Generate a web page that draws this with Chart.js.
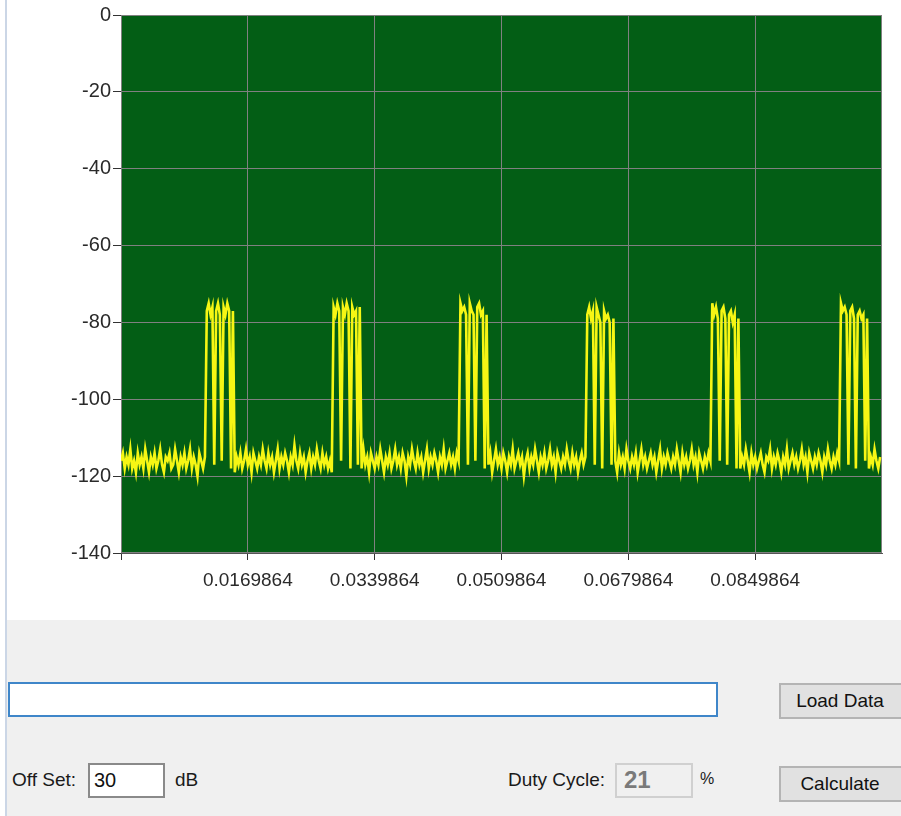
<!DOCTYPE html>
<html><head><meta charset="utf-8">
<script src="https://cdn.jsdelivr.net/npm/chart.js@4/dist/chart.umd.min.js"></script>
<style>
html,body{margin:0;padding:0;background:#fff;width:901px;height:816px;overflow:hidden;font-family:"Liberation Sans",Arial,sans-serif;color:#222;}
#chartBox{position:absolute;left:0;top:0;width:901px;height:620px;}
#panel{position:absolute;left:7px;top:620px;width:894px;height:196px;background:#f0f0f0;}
#edge{position:absolute;left:5px;top:0;width:2px;height:816px;background:#cbd6e6;}
.abs{position:absolute;box-sizing:border-box;white-space:nowrap;}
#pathBox{left:8px;top:682px;width:710px;height:35px;border:2px solid #3f86c9;background:#fff;}
.btn{background:#e1e1e1;border:2px solid #b4b4b4;text-align:center;font-size:19px;color:#111;}
#loadBtn{left:779px;top:683px;width:126px;height:36px;line-height:32px;padding-right:4px;}
#calcBtn{left:779px;top:766px;width:126px;height:36px;line-height:32px;padding-right:4px;}
.lbl{font-size:19px;color:#1a1a1a;}
#offLbl{left:12px;top:769px;}
#offBox{left:88px;top:763px;width:77px;height:35px;border:2px solid #8a8a8a;background:#fff;font-size:20px;padding-left:4px;line-height:31px;color:#111;}
#dbLbl{left:175px;top:769px;}
#dutyLbl{left:508px;top:769px;}
#dutyBox{left:615px;top:763px;width:78px;height:35px;border:2px solid #d0d0d0;background:#f0f0f0;font-size:24px;font-weight:bold;color:#7a7a7a;padding-left:7px;line-height:30px;}
#pctLbl{left:700px;top:770px;font-size:16px;}
</style>
</head><body>
<div id="chartBox"><canvas id="c" width="901" height="620"></canvas></div>
<div id="panel"></div>
<div id="edge"></div>
<div class="abs" id="pathBox"></div>
<div class="abs btn" id="loadBtn">Load Data</div>
<div class="abs lbl" id="offLbl">Off Set:</div>
<div class="abs" id="offBox">30</div>
<div class="abs lbl" id="dbLbl">dB</div>
<div class="abs lbl" id="dutyLbl">Duty Cycle:</div>
<div class="abs" id="dutyBox">21</div>
<div class="abs lbl" id="pctLbl">%</div>
<div class="abs btn" id="calcBtn">Calculate</div>
<script>
// ---- data ----
const firstSampleTime = -0.0000136;   // seconds
const sampleStep = 0.00025;           // seconds between samples
const xMin = -0.0000136;
const xMax = 0.1019864;
const xTickValues = [-0.0000136, 0.0169864, 0.0339864, 0.0509864, 0.0679864, 0.0849864];
const xTickLabels = ['', '0.0169864', '0.0339864', '0.0509864', '0.0679864', '0.0849864'];
const yMin = -140, yMax = 0, yStep = 20;

const noise0 = [-116,-114,-118,-115,-117,-113,-118,-116,-119,-114,
  -117,-115,-118,-113,-116,-119,-115,-117,-114,-118,
  -116,-113,-117,-119,-115,-116,-114,-118,-117,-113,
  -116,-119,-115,-117,-114,-118,-116,-113,-118,-115,
  -117,-120,-114,-116,-118,-115];
const burst1 = [-77,-75,-78,-76,-117,-77,-75,-78,-116,-76,-78,-75,-77,-118,-77];
const noise1 = [-119,-115,-117,-114,-118,-116,-113,-117,-115,-119,
  -114,-116,-118,-115,-117,-113,-116,-118,-114,-117,
  -115,-119,-116,-113,-118,-115,-117,-114,-116,-119,
  -115,-117,-112,-116,-118,-114,-117,-115,-119,-116,
  -114,-118,-115,-117,-113,-116,-118,-114,-117,-115,
  -118,-116,-119];
const burst2 = [-76,-78,-75,-77,-116,-76,-78,-75,-77,-118,-76,-78,-77,-117,-76];
const noise2 = [-118,-113,-117,-115,-119,-114,-116,-118,-115,-117,
  -113,-116,-119,-115,-117,-114,-118,-116,-113,-117,
  -115,-118,-114,-116,-120,-115,-117,-113,-116,-118,
  -114,-117,-115,-119,-116,-113,-118,-115,-117,-114,
  -116,-119,-115,-117,-113,-118,-116,-114,-117,-115,
  -118,-114,-116];
const burst3 = [-75,-77,-76,-78,-117,-75,-77,-78,-116,-76,-75,-78,-77,-118,-78];
const noise3 = [-117,-114,-119,-116,-113,-117,-115,-118,-114,-116,
  -119,-115,-117,-113,-118,-116,-114,-117,-115,-120,
  -116,-114,-118,-115,-117,-113,-116,-119,-115,-117,
  -114,-118,-116,-113,-117,-115,-119,-114,-116,-118,
  -115,-117,-113,-116,-118,-114,-117,-115,-119,-116,
  -114,-117,-115];
const burst4 = [-78,-76,-79,-77,-117,-76,-78,-80,-118,-77,-79,-78,-80,-117,-79];
const noise4 = [-116,-119,-114,-117,-115,-118,-113,-116,-118,-115,
  -117,-114,-119,-116,-113,-117,-115,-118,-116,-114,
  -117,-115,-119,-116,-113,-118,-115,-117,-114,-116,
  -118,-115,-117,-113,-116,-119,-114,-117,-115,-118,
  -116,-113,-117,-115,-119,-114,-116,-118,-115,-117,
  -114,-116];
const burst5 = [-75,-78,-76,-79,-116,-77,-76,-79,-117,-78,-77,-80,-78,-118,-79];
const noise5 = [-118,-115,-117,-113,-116,-119,-114,-117,-115,-118,
  -116,-114,-117,-119,-115,-116,-113,-118,-115,-117,
  -114,-116,-119,-115,-117,-113,-118,-116,-114,-117,
  -115,-118,-116,-113,-117,-115,-119,-114,-116,-118,
  -115,-117,-114,-116,-119,-115,-117,-113,-116,-118,
  -115,-117,-114,-116];
const burst6 = [-75,-77,-76,-78,-117,-77,-76,-79,-118,-78,-77,-79,-78,-116,-79];
const noise6 = [-118,-115,-117,-113,-116,-118,-115];

const powerDb = [].concat(noise0, burst1, noise1, burst2, noise2, burst3,
  noise3, burst4, noise4, burst5, noise5, burst6, noise6);
const points = powerDb.map((v, i) => ({x: firstSampleTime + i * sampleStep, y: v}));

const plotBg = {
  id: 'plotBg',
  beforeDraw(chart) {
    const a = chart.chartArea, ctx = chart.ctx;
    ctx.save();
    ctx.fillStyle = '#035e15';
    ctx.fillRect(a.left, a.top, a.right - a.left, a.bottom - a.top);
    ctx.restore();
  },
  beforeDatasetsDraw(chart) {
    const a = chart.chartArea, ctx = chart.ctx;
    ctx.save();
    ctx.strokeStyle = '#808080';
    ctx.lineWidth = 1;
    ctx.strokeRect(a.left + 0.5, a.top + 0.5, a.right - a.left - 1, a.bottom - a.top - 1);
    ctx.restore();
  }
};

const tickFont = {family: '"Liberation Sans",Arial,sans-serif', size: 19};

new Chart(document.getElementById('c'), {
  type: 'line',
  data: {datasets: [{
    data: points,
    borderColor: '#f6f614',
    borderWidth: 2.6,
    borderJoinStyle: 'miter',
    pointRadius: 0,
    tension: 0,
    fill: false
  }]},
  options: {
    responsive: false,
    animation: false,
    events: [],
    layout: {padding: {left: 0, right: 19, top: 15, bottom: 0}},
    plugins: {legend: {display: false}, tooltip: {enabled: false}},
    scales: {
      x: {
        type: 'linear', min: xMin, max: xMax,
        afterBuildTicks(scale) { scale.ticks = xTickValues.map(v => ({value: v})); },
        afterFit(scale) { scale.height = 67; },
        ticks: {autoSkip: false, maxRotation: 0, minRotation: 0, padding: 9, color: '#2a2a2a', font: tickFont,
          callback: (v, i) => xTickLabels[i]},
        grid: {color: '#808080', tickColor: '#333', tickLength: 7, lineWidth: 1},
        border: {display: true, color: '#555'}
      },
      y: {
        min: yMin, max: yMax,
        afterFit(scale) { scale.width = 121; },
        ticks: {stepSize: yStep, padding: 2, color: '#2a2a2a', font: {family: tickFont.family, size: 20}},
        grid: {color: '#808080', tickColor: '#333', tickLength: 8, lineWidth: 1},
        border: {display: true, color: '#555'}
      }
    }
  },
  plugins: [plotBg]
});
</script>
</body></html>
